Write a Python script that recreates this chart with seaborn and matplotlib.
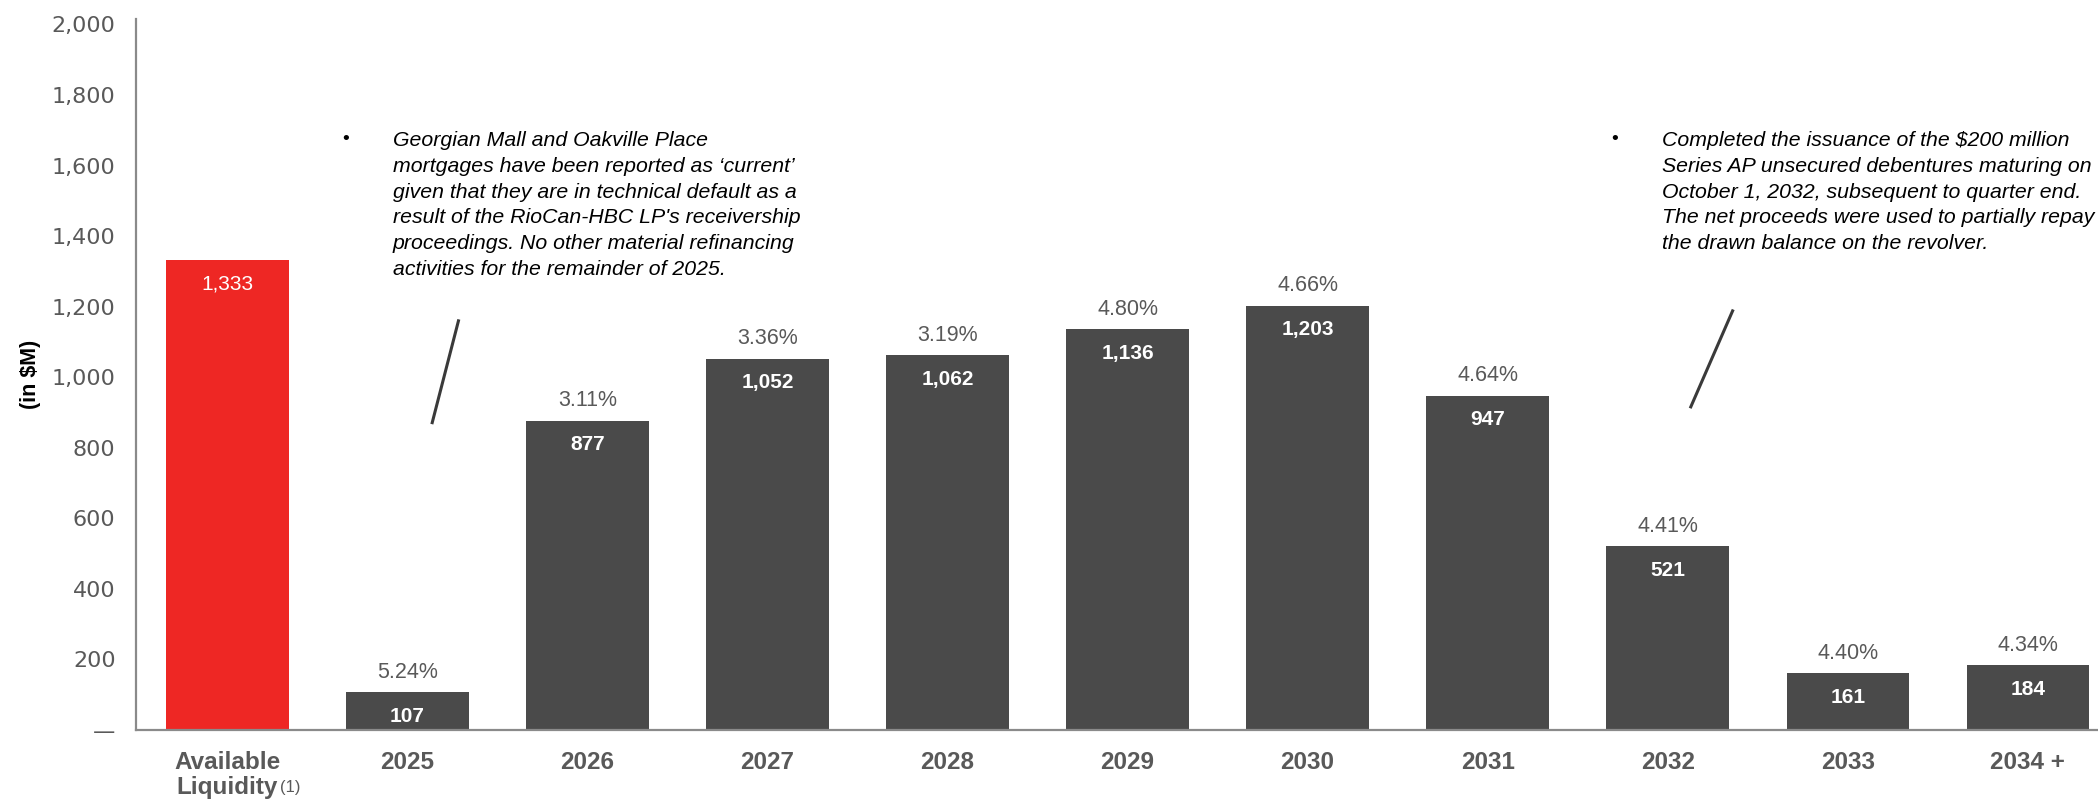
import matplotlib
matplotlib.use("Agg")
import matplotlib.pyplot as plt
import seaborn as sns
from matplotlib.ticker import FixedLocator, FuncFormatter

# Debt maturity profile (in $M) and weighted average interest rates
categories = ["Available\nLiquidity", "2025", "2026", "2027", "2028", "2029",
              "2030", "2031", "2032", "2033", "2034 +"]
amounts = [1333, 107, 877, 1052, 1062, 1136, 1203, 947, 521, 161, 184]
rates = [None, 5.24, 3.11, 3.36, 3.19, 4.80, 4.66, 4.64, 4.41, 4.40, 4.34]
y_ticks = [0, 200, 400, 600, 800, 1000, 1200, 1400, 1600, 1800, 2000]

note_left = ("Georgian Mall and Oakville Place\n"
             "mortgages have been reported as \u2018current\u2019\n"
             "given that they are in technical default as a\n"
             "result of the RioCan-HBC LP's receivership\n"
             "proceedings. No other material refinancing\n"
             "activities for the remainder of 2025.")
note_right = ("Completed the issuance of the $200 million\n"
              "Series AP unsecured debentures maturing on\n"
              "October 1, 2032, subsequent to quarter end.\n"
              "The net proceeds were used to partially repay\n"
              "the drawn balance on the revolver.")

RED = "#EE2724"
DARK = "#4A4A4A"
GREY_TXT = "#595959"
AXIS = "#8A8A8A"

sns.set_theme(style="white")
plt.rcParams["font.family"] = ["Liberation Sans", "DejaVu Sans"]

fig = plt.figure(figsize=(20.98, 7.99), dpi=100)
ax = fig.add_axes([0.065, 0.0864, 0.935, 0.8896])

palette = [RED] + [DARK] * (len(categories) - 1)
sns.barplot(x=categories, y=amounts, hue=categories, palette=palette,
            legend=False, width=0.68, saturation=1, ax=ax, linewidth=0)

ax.set_xlim(-0.505, 10.39)
ax.set_ylim(0, 2015)

# axis styling
for side in ("top", "right"):
    ax.spines[side].set_visible(False)
for side in ("left", "bottom"):
    ax.spines[side].set_color(AXIS)
    ax.spines[side].set_linewidth(1.6)

ax.yaxis.set_major_locator(FixedLocator(y_ticks))
ax.yaxis.set_major_formatter(FuncFormatter(
    lambda v, _: "\u2014" if v == 0 else f"{int(v):,}"))
ax.tick_params(axis="y", length=0, pad=15, labelsize=16, labelcolor=GREY_TXT)
for lbl in ax.get_yticklabels():
    lbl.set_family("DejaVu Sans")

ax.tick_params(axis="x", length=0, pad=15, labelsize=17.5, labelcolor=GREY_TXT)
for lbl in ax.get_xticklabels():
    lbl.set_fontweight("bold")
    lbl.set_linespacing(1.12)

ax.set_xlabel("")
ax.set_ylabel("(in $M)", fontsize=15.5, fontweight="bold", color="black")
ax.yaxis.set_label_coords(-0.0485, 0.5)

# footnote marker next to the liquidity label
ax.annotate("(1)", xy=(0.29, 0), xycoords=("data", "data"),
            xytext=(0, -58), textcoords="offset pixels",
            ha="left", va="center", fontsize=12, color=GREY_TXT)

# value labels inside bars and rate labels above bars
for i, (amt, rate) in enumerate(zip(amounts, rates)):
    ax.annotate(f"{amt:,}", xy=(i, amt), xytext=(0, -24),
                textcoords="offset pixels", ha="center", va="center",
                fontsize=15, color="white",
                fontweight="normal" if i == 0 else "bold")
    if rate is not None:
        ax.annotate(f"{rate:.2f}%", xy=(i, amt), xytext=(0, 20),
                    textcoords="offset pixels", ha="center", va="center",
                    fontsize=15.5, color=GREY_TXT)

# commentary boxes with bullets
fig.text(346 / 2098, 1 - 139 / 799, "\u2022", ha="center", va="center",
         fontsize=14, color="black")
fig.text(393 / 2098, 1 - 131 / 799, note_left, ha="left", va="top",
         fontsize=15.3, style="italic", color="black", linespacing=1.45)
fig.text(1615 / 2098, 1 - 139 / 799, "\u2022", ha="center", va="center",
         fontsize=14, color="black")
fig.text(1662 / 2098, 1 - 131 / 799, note_right, ha="left", va="top",
         fontsize=15.3, style="italic", color="black", linespacing=1.45)

# pointer strokes under each note
ax.plot([1.286, 1.136], [1164, 867], color="#3A3A3A", lw=2.2,
        solid_capstyle="butt")
ax.plot([8.364, 8.125], [1192, 912], color="#3A3A3A", lw=2.2,
        solid_capstyle="butt")

fig.savefig("out.png", dpi=100)
